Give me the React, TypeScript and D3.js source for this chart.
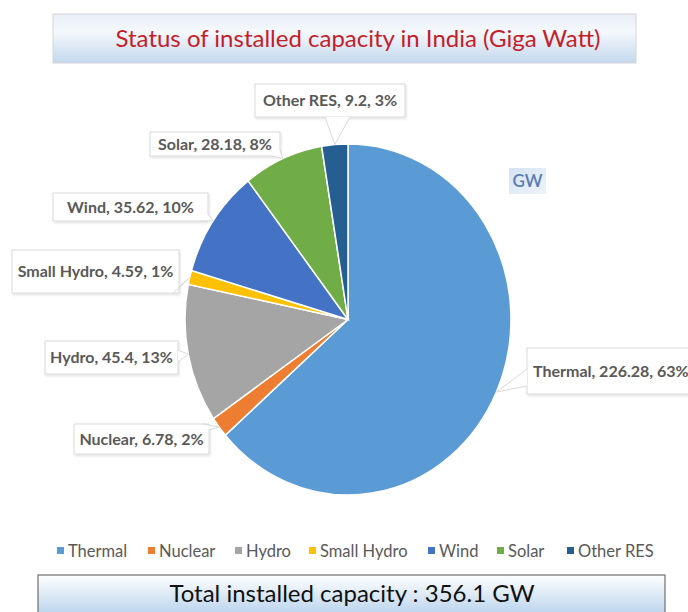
import React from "react";
import * as d3 from "d3";

const categories = ["Thermal", "Nuclear", "Hydro", "Small Hydro", "Wind", "Solar", "Other RES"];
const values = [226.28, 6.78, 45.4, 4.59, 35.62, 28.18, 9.2];
const percents = ["63%", "2%", "13%", "1%", "10%", "8%", "3%"];
const colors = ["#5B9BD5", "#ED7D31", "#A5A5A5", "#FFC000", "#4472C4", "#70AD47", "#255E91"];
const titleText = "Status of installed capacity in India (Giga Watt)";
const totalText = "Total installed capacity : 356.1 GW";
const unitText = "GW";

// layout: label callout boxes [x, y, w, h]
const labelBoxes: [number, number, number, number][] = [
  [527, 348, 175, 46],
  [74, 424, 135, 30],
  [45, 341, 133, 33],
  [12, 250, 167, 43],
  [53, 193, 155, 28],
  [150, 132, 130, 24],
  [255, 84, 150, 33],
];
// wedge base points on box (two points)
const wedgeBases: [number, number, number, number][] = [
  [527, 369, 527, 386],
  [203, 424, 209, 430],
  [178, 350, 178, 362],
  [173, 293, 179, 287],
  [200, 221, 208, 214],
  [272, 156, 280, 150],
  [325, 117, 350, 117],
];
const legendX = [57, 148, 235, 309, 428, 497, 567];

const cx = 348;
const cy = 319.5;
const rx = 163;
const ry = 175.5;

export default function App() {
  const pie = d3.pie<number>().sort(null).value((d) => d)(values);
  const arc = d3.arc<d3.PieArcDatum<number>>().innerRadius(0).outerRadius(rx);
  const labelFont = "Lato, 'Open Sans', sans-serif";

  return (
    <svg width={688} height={612} style={{ position: "absolute", left: 0, top: 0, background: "#fff" }}>
      <defs>
        <linearGradient id="titleGrad" x1="0" y1="0" x2="0" y2="1">
          <stop offset="0" stopColor="#e6eef7" />
          <stop offset="0.35" stopColor="#f6f9fc" />
          <stop offset="1" stopColor="#c3d8ee" />
        </linearGradient>
        <linearGradient id="totalGrad" x1="0" y1="0" x2="0" y2="1">
          <stop offset="0" stopColor="#ffffff" />
          <stop offset="1" stopColor="#b9d3ec" />
        </linearGradient>
        <linearGradient id="gwGrad" x1="0" y1="0" x2="1" y2="1">
          <stop offset="0" stopColor="#d6e3f3" />
          <stop offset="1" stopColor="#eef3fa" />
        </linearGradient>
        <filter id="shadow" x="-10%" y="-10%" width="130%" height="140%">
          <feDropShadow dx="1" dy="1.5" stdDeviation="1.2" floodColor="#000" floodOpacity="0.12" />
        </filter>
      </defs>

      {/* title */}
      <rect x={53} y={14} width={583} height={49} fill="url(#titleGrad)" stroke="#d6d6d6" strokeWidth={1} />
      <text x={358} y={47} textAnchor="middle" fontFamily={labelFont} fontSize={24} fill="#C41E2A">
        {titleText}
      </text>

      {/* pie */}
      <g transform={`translate(${cx},${cy}) scale(1,${ry / rx})`}>
        {pie.map((d, i) => (
          <path key={i} d={arc(d) || ""} fill={colors[i]} stroke="#fff" strokeWidth={1.5} vectorEffect="non-scaling-stroke" />
        ))}
      </g>

      {/* GW box */}
      <rect x={509} y={168} width={37} height={26} fill="url(#gwGrad)" />
      <text x={527.5} y={187} textAnchor="middle" fontFamily={labelFont} fontSize={17} fontWeight={600} fill="#5A7DB3">
        {unitText}
      </text>

      {/* callouts */}
      {pie.map((d, i) => {
        const mid = (d.startAngle + d.endAngle) / 2;
        const ax = cx + rx * Math.sin(mid);
        const ay = cy - ry * Math.cos(mid);
        const [bx, by, bw, bh] = labelBoxes[i];
        const [w1x, w1y, w2x, w2y] = wedgeBases[i];
        return (
          <g key={i}>
            <rect x={bx} y={by} width={bw} height={bh} fill="#fff" stroke="#d9d9d9" strokeWidth={1} filter="url(#shadow)" />
            <polygon points={`${w1x},${w1y} ${ax},${ay} ${w2x},${w2y}`} fill="#fff" stroke="none" />
            <polyline points={`${w1x},${w1y} ${ax},${ay} ${w2x},${w2y}`} fill="none" stroke="#d9d9d9" strokeWidth={1} />
            <text
              x={bx + (i === 0 ? 6 : bw / 2)}
              y={by + bh / 2 + 5.5}
              textAnchor={i === 0 ? "start" : "middle"}
              fontFamily={labelFont}
              fontWeight={700}
              fontSize={16}
              fill="#595959"
            >
              {`${categories[i]}, ${values[i]}, ${percents[i]}`}
            </text>
          </g>
        );
      })}

      {/* legend */}
      {categories.map((c, i) => (
        <g key={c}>
          <rect x={legendX[i]} y={547} width={7} height={7} fill={colors[i]} />
          <text x={legendX[i] + 11} y={556.5} fontFamily={labelFont} fontSize={16.5} fill="#595959">
            {c}
          </text>
        </g>
      ))}

      {/* total box */}
      <rect x={38} y={575} width={627} height={40} fill="url(#totalGrad)" stroke="#6f6f6f" strokeWidth={1.2} />
      <text x={352} y={602} textAnchor="middle" fontFamily={labelFont} fontSize={24} fill="#111">
        {totalText}
      </text>
    </svg>
  );
}
